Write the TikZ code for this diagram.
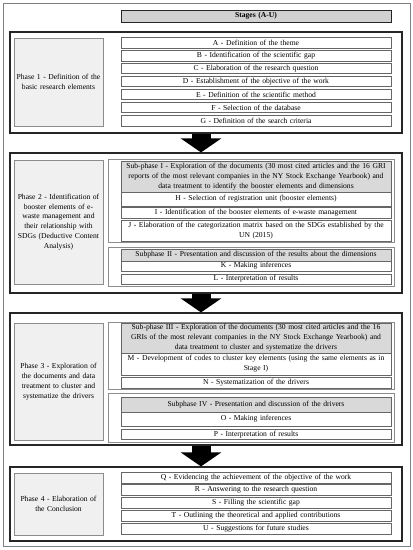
\documentclass[tikz,border=0pt]{standalone}
\usepackage{fontspec}
\setmainfont{Liberation Serif}
\usetikzlibrary{arrows.meta}

\tikzset{
    every node/.style = {font=\fontsize{7.6}{9.9}\selectfont, inner sep=0pt, align=center},
    stagebox/.style = {draw=black!85, line width=0.8pt, fill=black!18, text width=270pt, minimum height=12pt, font=\fontsize{7.6}{9.9}\selectfont\bfseries},
    phaseframe/.style = {draw=black!85, line width=1.2pt, minimum width=392pt},
    phaselabel/.style = {draw=black!45, line width=0.6pt, fill=black!6, text width=89pt},
    item/.style = {draw=black!60, line width=0.6pt, fill=white, text width=270pt, minimum height=10.5pt},
    header/.style = {item, fill=black!15},
    subgroup/.style = {draw=black!45, line width=0.6pt, minimum width=286pt},
    bigarrow/.style = {line width=19pt, -{Triangle[width=40pt,length=14pt]}, black}
}

\begin{document}
\begin{tikzpicture}[x=1pt, y=-1pt]
    \useasboundingbox (0,0) rectangle (413,550);
    \draw[black!50, line width=0.8pt] (3,3) rectangle (410,546);

    \draw
        (256, 16) node (stages) [stagebox] {Stages (A-U)}

        % frames of the four phases
        (206, 82.5) node (p1) [phaseframe, minimum height=101pt] {}
        (206, 223) node (p2) [phaseframe, minimum height=140pt] {}
        (206, 379) node (p3) [phaseframe, minimum height=132pt] {}
        (206, 504) node (p4) [phaseframe, minimum height=74pt] {}

        (58.5, 82) node (l1) [phaselabel, minimum height=88pt]
            {Phase 1 - Definition of the\\ basic research elements}
        (58.5, 222) node (l2) [phaselabel, minimum height=124pt]
            {Phase 2 - Identification of\\ booster elements of e-\\ waste management and\\ their relationship with\\ SDGs (Deductive Content\\ Analysis)}
        (58.5, 381.5) node (l3) [phaselabel, minimum height=117pt]
            {Phase 3 - Exploration of\\ the documents and data\\ treatment to cluster and\\ systematize the drivers}
        (58.5, 504) node (l4) [phaselabel, minimum height=62pt]
            {Phase 4 - Elaboration of\\ the Conclusion}

        % phase 1
        (256, 43) node (a) [item] {A - Definition of the theme}
        (256, 56) node (b) [item] {B - Identification of the scientific gap}
        (256, 68.5) node (c) [item] {C - Elaboration of the research question}
        (256, 81.5) node (d) [item] {D - Establishment of the objective of the work}
        (256, 94.5) node (e) [item] {E - Definition of the scientific method}
        (256, 107.5) node (f) [item] {F - Selection of the database}
        (256, 121) node (g) [item] {G - Definition of the search criteria}

        % phase 2
        (251, 200.5) node (g1) [subgroup, minimum height=83pt] {}
        (256, 176.5) node (s1) [header, minimum height=31pt]
            {Sub-phase I - Exploration of the documents (30 most cited articles and the 16 GRI\\ reports of the most relevant companies in the NY Stock Exchange Yearbook) and\\ data treatment to identify the booster elements and dimensions}
        (256, 199) node (h) [item, minimum height=14pt] {H - Selection of registration unit (booster elements)}
        (256, 213) node (i) [item] {I - Identification of the booster elements of e-waste management}
        (256, 230.5) node (j) [item, minimum height=21pt]
            {J - Elaboration of the categorization matrix based on the SDGs established by the\\ UN (2015)}
        (251, 266.5) node (g2) [subgroup, minimum height=39pt] {}
        (256, 255) node (s2) [header, minimum height=12pt]
            {Subphase II - Presentation and discussion of the results about the dimensions}
        (256, 266) node (k) [item, minimum height=10pt] {K - Making inferences}
        (256, 279) node (l) [item, minimum height=10pt] {L - Interpretation of results}

        % phase 3
        (251, 355.5) node (g3) [subgroup, minimum height=67pt] {}
        (256, 338) node (s3) [header, minimum height=30pt]
            {Sub-phase III - Exploration of the documents (30 most cited articles and the 16\\ GRIs of the most relevant companies in the NY Stock Exchange Yearbook) and\\ data treatment to cluster and systematize the drivers}
        (256, 364) node (m) [item, minimum height=22pt]
            {M - Development of codes to cluster key elements (using the same elements as in\\ Stage I)}
        (256, 382.75) node (n) [item] {N - Systematization of the drivers}
        (251, 417.5) node (g4) [subgroup, minimum height=49pt] {}
        (256, 404.5) node (s4) [header, minimum height=15pt]
            {Subphase IV - Presentation and discussion of the drivers}
        (256, 419) node (o) [item, minimum height=14pt] {O - Making inferences}
        (256, 434.25) node (pp) [item] {P - Interpretation of results}

        % phase 4
        (256, 478) node (q) [item] {Q - Evidencing the achievement of the objective of the work}
        (256, 490) node (r) [item] {R - Answering to the research question}
        (256, 503) node (s) [item] {S - Filling the scientific gap}
        (256, 516) node (t) [item] {T - Outlining the theoretical and applied contributions}
        (256, 529) node (u) [item] {U - Suggestions for future studies}
    ;

    \draw[bigarrow] ([xshift=-5pt]p1.south) -- ([xshift=-5pt]p2.north);
    \draw[bigarrow] ([xshift=-5pt]p2.south) -- ([xshift=-5pt]p3.north);
    \draw[bigarrow] ([xshift=-5pt]p3.south) -- ([xshift=-5pt]p4.north);

\end{tikzpicture}
\end{document}
